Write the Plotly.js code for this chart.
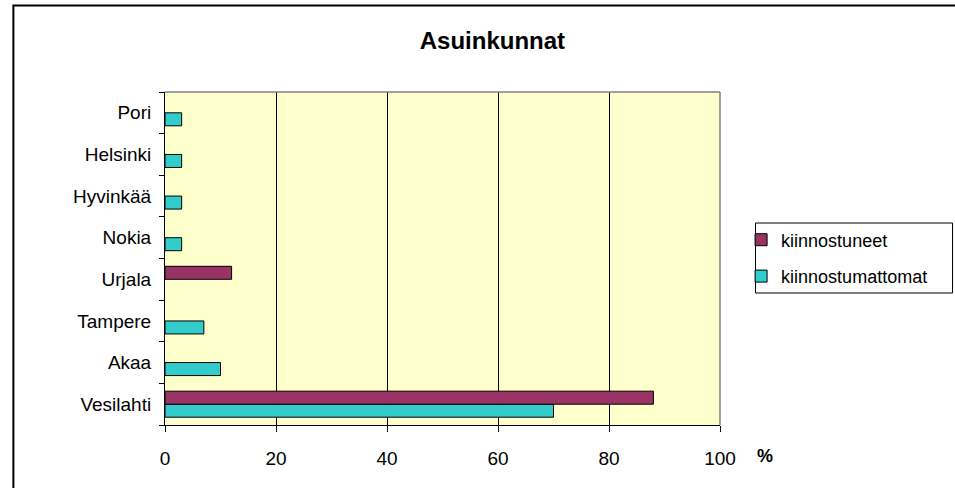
<!DOCTYPE html>
<html>
<head>
<meta charset="utf-8">
<script src="https://cdn.plot.ly/plotly-3.0.1.min.js"></script>
<style>html,body{margin:0;padding:0;background:#fff;}#chart{width:955px;height:488px;}</style>
</head>
<body>
<div id="chart"></div>
<script>
var categories = ["Vesilahti", "Akaa", "Tampere", "Urjala", "Nokia", "Hyvinkää", "Helsinki", "Pori"];
var kiinnostuneet = [88, 0, 0, 12, 0, 0, 0, 0];
var kiinnostumattomat = [70, 10, 7, 0, 3, 3, 3, 3];
var xTicks = [0, 20, 40, 60, 80, 100];

var FONT = "Arial, 'Liberation Sans', sans-serif";

function outlineWidths(vals) { return vals.map(function (v) { return v === 0 ? 0 : 1; }); }

var traces = [
  {
    type: "bar", orientation: "h", name: "kiinnostumattomat",
    y: categories, x: kiinnostumattomat, legendgroup: "b", legendrank: 2,
    marker: {color: "#33CCCC", line: {color: "#000", width: outlineWidths(kiinnostumattomat)}}
  },
  {
    type: "bar", orientation: "h", name: "kiinnostuneet",
    y: categories, x: kiinnostuneet, legendgroup: "a", legendrank: 1,
    marker: {color: "#993366", line: {color: "#000", width: outlineWidths(kiinnostuneet)}}
  }
];

var layout = {
  width: 955, height: 488,
  margin: {l: 165, r: 235, t: 92, b: 63},
  paper_bgcolor: "#fff",
  plot_bgcolor: "#FFFFCC",
  font: {family: FONT, size: 19, color: "#000"},
  title: {text: "<b>Asuinkunnat</b>", font: {family: FONT, size: 24, color: "#000"},
          x: 0.59, xref: "paper", xanchor: "center", y: 1 - 41/488, yref: "container", yanchor: "middle"},
  barmode: "group", bargap: 0.375, bargroupgap: 0,
  showlegend: true,
  legend: {x: 1.038, xanchor: "left", y: 0.5015, yanchor: "middle",
           traceorder: "grouped", tracegroupgap: 10,
           bgcolor: "rgba(0,0,0,0)", borderwidth: 0,
           font: {family: FONT, size: 18, color: "#000"}},
  xaxis: {range: [0, 100], tickvals: xTicks, ticktext: xTicks.map(String),
          showgrid: true, gridcolor: "#000", gridwidth: 1,
          zeroline: false, showline: true, linecolor: "#000", linewidth: 1,
          ticks: "outside", ticklen: 6, tickcolor: "#000", ticklabelstandoff: 10,
          fixedrange: true},
  yaxis: {type: "category", showgrid: false, zeroline: false,
          showline: true, linecolor: "#000", linewidth: 1,
          ticks: "outside", ticklen: 5, tickcolor: "#000", tickson: "boundaries",
          ticklabelstandoff: 9, fixedrange: true},
  shapes: [
    {type: "line", xref: "paper", yref: "paper", x0: 0, x1: 1, y0: 1, y1: 1, layer: "above",
     line: {color: "#808080", width: 1.5}},
    {type: "line", xref: "paper", yref: "paper", x0: 1, x1: 1, y0: 0, y1: 1, layer: "above",
     line: {color: "#808080", width: 1.5}},
    {type: "rect", xref: "paper", yref: "paper", x0: 1.064, x1: 1.419, y0: 0.3964, y1: 0.6066,
     line: {color: "#000", width: 1}, fillcolor: "rgba(0,0,0,0)", layer: "above"},
    {type: "rect", xref: "paper", yref: "paper", x0: -0.2732, x1: 1.6, y0: -0.4, y1: 1.2598,
     line: {color: "#000", width: 2}, fillcolor: "rgba(0,0,0,0)", layer: "above"}
  ],
  annotations: [
    {text: "<b>%</b>", xref: "paper", yref: "paper", x: (764-165)/554.5, y: (425-456)/333,
     xanchor: "center", yanchor: "middle", showarrow: false, font: {family: FONT, size: 18, color: "#000"}}
  ]
};

Plotly.newPlot("chart", traces, layout, {displayModeBar: false, staticPlot: true});
</script>
</body>
</html>
